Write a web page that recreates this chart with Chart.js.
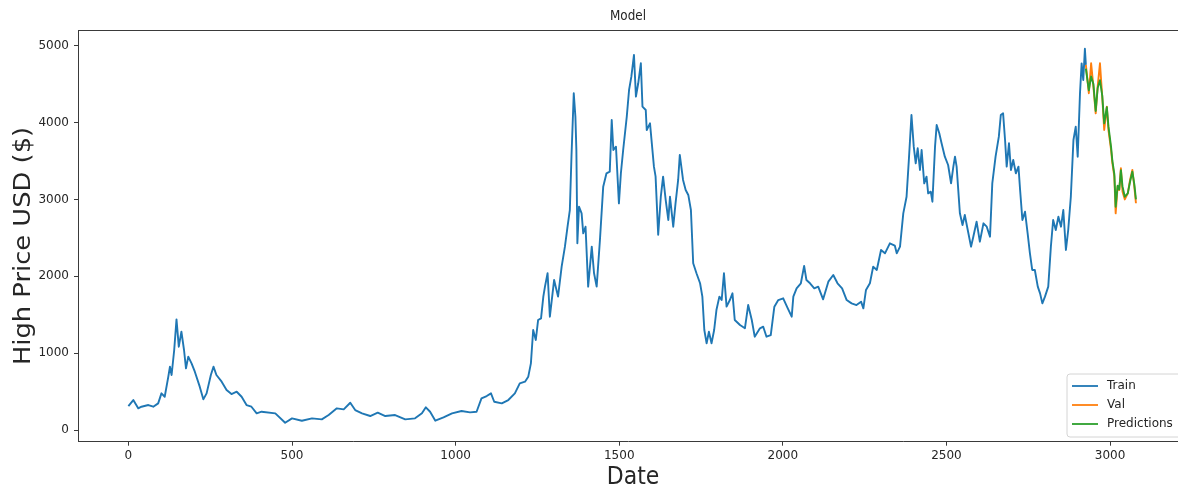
<!DOCTYPE html>
<html>
<head>
<meta charset="utf-8">
<title>Model</title>
<script src="https://cdn.jsdelivr.net/npm/chart.js@4.4.1/dist/chart.umd.min.js"></script>
<style>
  html, body { margin: 0; padding: 0; background: #fff; overflow: hidden; }
  #wrap { width: 1178px; height: 488px; }
</style>
</head>
<body>
<div id="wrap"><canvas id="c" width="1178" height="488"></canvas></div>
<script>
// Daily high price (USD) — training section
const trainDays = [0,15,30,40,61,76,91,101,111,122,127,132,140,147,154,162,170,176,183,193,203,218,229,239,252,260,269,285,300,315,331,346,361,376,392,407,
  449,479,500,530,561,591,612,637,658,678,693,714,739,762,785,815,846,876,897,909,922,938,963,989,
  1018,1044,1064,1079,1095,1108,1118,1141,1161,1181,1196,1212,1222,1230,1237,1245,1252,1261,1268,1273,1281,1288,1301,1313,
  1324,1334,1342,1349,1354,1361,1366,1369,1372,1377,1385,1390,1397,1405,1416,1423,1431,1441,1451,1461,1471,1477,1482,1490,1499,1505,1512,1523,1530,1537,1545,1551,1558,1566,1571,1581,1584,1594,1606,1611,
  1619,1627,1634,1642,1650,1655,1665,1672,1680,1685,1695,1703,1711,1719,1726,1736,1747,1754,1760,1767,1774,1782,1790,1797,1806,1813,1820,1828,1838,1846,1853,1869,1884,1894,1905,1914,
  1930,1940,1950,1963,1974,1986,2001,2015,2027,2032,2042,2055,2065,2072,2083,2096,2108,2123,2139,2154,2167,2181,2195,2210,2225,2239,2246,2254,2266,2276,2287,2300,2312,2327,2342,
  2348,2358,2368,2378,2385,2393,2400,2406,2412,2419,2424,2432,2439,2444,2452,2457,2465,2470,2478,2485,2495,2505,2514,2521,2526,2531,2541,2549,2556,2565,2575,2582,2592,2602,2613,2623,2633,2640,
  2650,2660,2666,2673,2679,2684,2691,2697,2704,2712,2720,2725,2732,2740,2748,2755,2762,2770,2779,2786,2793,2801,2811,2819,2826,2834,2842,2850,2857,2865,2872,2880,2888,2895,2901,2908,2913,2918,2923,2926];
const trainHigh = [310,390,282,303,325,303,347,477,433,694,824,716,1041,1440,1084,1279,1041,802,954,867,759,564,399,477,716,824,716,629,520,468,498,433,325,303,217,238,
  217,95,152,121,152,139,195,282,269,355,260,217,182,225,182,195,139,152,217,295,238,121,165,217,
  247,230,238,412,442,477,368,347,390,477,607,629,694,867,1301,1171,1431,1453,1735,1865,2039,1474,1952,1735,
  2125,2385,2645,2862,3556,4381,4077,3643,2429,2905,2819,2559,2645,1865,2385,2039,1865,2472,3166,3340,3361,4033,3643,3686,2949,3340,3643,4077,4424,4597,4879,4337,4511,4771,4207,4163,3903,3990,3426,3300,
  2540,3035,3296,2992,2732,3035,2645,2949,3253,3578,3253,3123,3058,2862,2169,2039,1909,1735,1301,1128,1279,1128,1301,1561,1735,1691,2039,1605,1691,1778,1431,1366,1323,1626,1431,1214,
  1323,1344,1214,1236,1605,1691,1713,1583,1474,1735,1843,1909,2134,1952,1909,1843,1865,1700,1930,2017,1909,1843,1691,1648,1626,1670,1583,1822,1909,2125,2082,2342,2299,2429,2400,
  2299,2385,2819,3035,3513,4098,3686,3470,3665,3383,3643,3209,3296,3079,3101,2970,3686,3968,3860,3730,3556,3448,3209,3426,3556,3426,2819,2667,2797,2602,2385,2515,2710,2450,2689,2645,2515,3209,
  3556,3816,4098,4120,3773,3426,3730,3383,3513,3340,3426,3123,2732,2840,2559,2299,2082,2082,1865,1778,1648,1735,1865,2385,2732,2602,2775,2645,2862,2342,2602,3035,3773,3946,3556,4380,4770,4554,4960,4750];

// Validation section: actual highs and model predictions on the same days
const valDays  = [2926,2935,2942,2949,2956,2962,2969,2976,2982,2990,2995,3003,3007,3013,3017,3023,3028,3033,3038,3045,3054,3061,3068,3074,3079];
const valHigh  = [4750,4381,4771,4467,4120,4467,4771,4337,3903,4207,3903,3643,3470,3296,2819,3166,3123,3405,3100,3000,3079,3253,3383,3166,2950];
const predHigh = [4700,4420,4600,4500,4150,4450,4550,4350,3990,4200,3950,3680,3500,3330,2905,3180,3130,3380,3166,3035,3079,3230,3360,3200,3000];

const xTicks = [0, 500, 1000, 1500, 2000, 2500, 3000];
const yTicks = [0, 1000, 2000, 3000, 4000, 5000];

const seriesNames = ['Train', 'Val', 'Predictions'];
const seriesColors = ['#1f77b4', '#ff7f0e', '#2ca02c'];

const pts = (xs, ys) => xs.map((x, i) => ({ x, y: ys[i] }));

const INK = '#262626';
const SPINE = '#3a3a3a';
const FONT = "'DejaVu Sans', 'Liberation Sans', sans-serif";

Chart.defaults.font.family = FONT;

// Draws text with an optional stretch along x / y
function stretchedText(ctx, text, x, y, size, sx, sy, rot) {
  ctx.save();
  ctx.translate(x, y);
  if (rot) ctx.rotate(rot);
  ctx.scale(sx, sy);
  ctx.font = size + 'px ' + FONT;
  ctx.fillStyle = INK;
  ctx.textAlign = 'center';
  ctx.textBaseline = 'middle';
  ctx.fillText(text, 0, 0);
  ctx.restore();
}

const decor = {
  id: 'decor',
  afterDraw(chart) {
    const { ctx, chartArea: a } = chart;
    ctx.save();
    // top spine
    ctx.strokeStyle = SPINE;
    ctx.lineWidth = 1;
    ctx.beginPath();
    ctx.moveTo(a.left, a.top + 0.5);
    ctx.lineTo(a.right, a.top + 0.5);
    ctx.stroke();
    ctx.restore();

    // title and axis labels
    stretchedText(ctx, 'Model', 628, 17, 12, 1, 1.1, 0);
    stretchedText(ctx, 'Date', 633, 478, 22, 1, 1.1, 0);
    stretchedText(ctx, 'High Price USD ($)', 24, 246, 23, 1.12, 1, -Math.PI / 2);

    // legend
    const bx = 1067, by = 374, bw = 116, bh = 63, r = 3;
    ctx.save();
    ctx.beginPath();
    ctx.moveTo(bx + r, by);
    ctx.lineTo(bx + bw - r, by);
    ctx.arcTo(bx + bw, by, bx + bw, by + r, r);
    ctx.lineTo(bx + bw, by + bh - r);
    ctx.arcTo(bx + bw, by + bh, bx + bw - r, by + bh, r);
    ctx.lineTo(bx + r, by + bh);
    ctx.arcTo(bx, by + bh, bx, by + bh - r, r);
    ctx.lineTo(bx, by + r);
    ctx.arcTo(bx, by, bx + r, by, r);
    ctx.closePath();
    ctx.fillStyle = 'rgba(255,255,255,0.85)';
    ctx.fill();
    ctx.strokeStyle = '#d4d4d4';
    ctx.lineWidth = 1;
    ctx.stroke();
    const rows = [386, 405, 424];
    chart.data.datasets.forEach((ds, i) => {
      ctx.strokeStyle = ds.borderColor;
      ctx.lineWidth = 1.8;
      ctx.beginPath();
      ctx.moveTo(1072, rows[i]);
      ctx.lineTo(1098, rows[i]);
      ctx.stroke();
      ctx.save();
      ctx.translate(1107, rows[i]);
      ctx.scale(1, 1.08);
      ctx.font = '12px ' + FONT;
      ctx.fillStyle = INK;
      ctx.textAlign = 'left';
      ctx.textBaseline = 'middle';
      ctx.fillText(ds.label, 0, 0);
      ctx.restore();
    });
    ctx.restore();
  }
};

const plain = v => String(v);

new Chart(document.getElementById('c'), {
  type: 'line',
  data: {
    datasets: [
      { label: seriesNames[0], data: pts(trainDays, trainHigh), borderColor: seriesColors[0], order: 2 },
      { label: seriesNames[1], data: pts(valDays, valHigh), borderColor: seriesColors[1], order: 1 },
      { label: seriesNames[2], data: pts(valDays, predHigh), borderColor: seriesColors[2], order: 0 }
    ]
  },
  options: {
    responsive: false,
    animation: false,
    layout: { padding: { top: 30, left: 0, right: 0, bottom: 0 } },
    elements: {
      line: { borderWidth: 1.9, tension: 0, fill: false, borderJoinStyle: 'round' },
      point: { radius: 0, hoverRadius: 0 }
    },
    plugins: {
      legend: { display: false },
      title: { display: false },
      tooltip: { enabled: false }
    },
    scales: {
      x: {
        type: 'linear',
        min: -154,
        max: 3207.5,
        afterFit(s) { s.height = 46.3; },
        afterBuildTicks(s) { s.ticks = xTicks.map(v => ({ value: v })); },
        grid: { display: true, drawOnChartArea: false, drawTicks: true, tickLength: 4, tickColor: SPINE, tickWidth: 1 },
        border: { display: true, color: SPINE, width: 1 },
        ticks: { color: INK, font: { size: 12 }, padding: 3, maxRotation: 0, autoSkip: false, callback: plain }
      },
      y: {
        type: 'linear',
        min: -152,
        max: 5204,
        afterFit(s) { s.width = 78; },
        afterBuildTicks(s) { s.ticks = yTicks.map(v => ({ value: v })); },
        grid: { display: true, drawOnChartArea: false, drawTicks: true, tickLength: 4, tickColor: SPINE, tickWidth: 1 },
        border: { display: true, color: SPINE, width: 1 },
        ticks: { color: INK, font: { size: 12 }, padding: 5, autoSkip: false, callback: plain }
      }
    }
  },
  plugins: [decor]
});
</script>
</body>
</html>
